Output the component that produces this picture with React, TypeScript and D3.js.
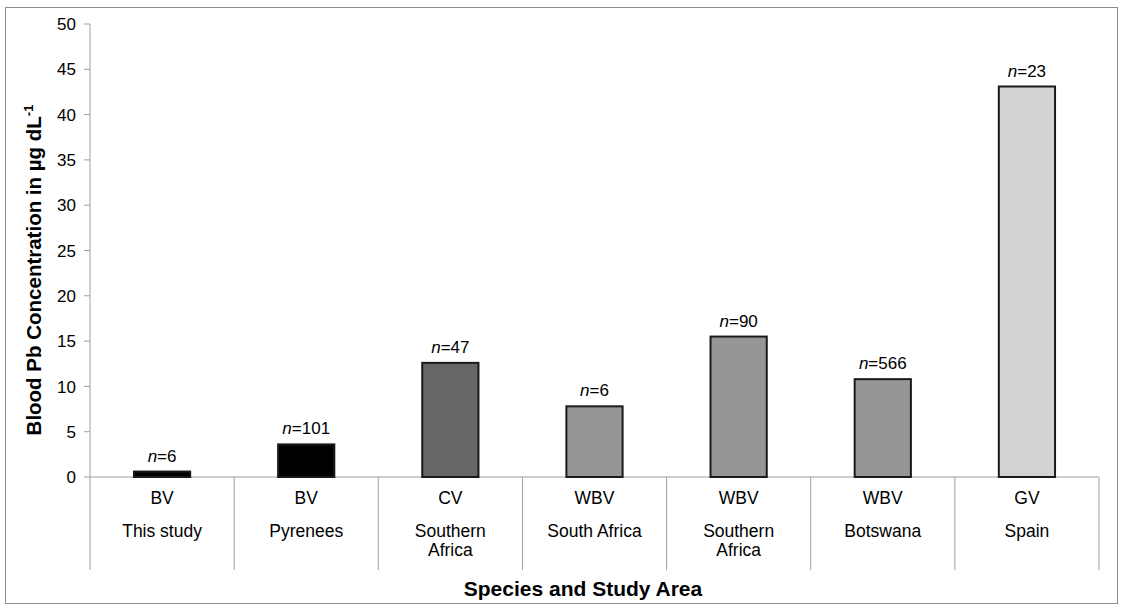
import * as d3 from "d3";

const species = ["BV", "BV", "CV", "WBV", "WBV", "WBV", "GV"];
const areas = [
  ["This study"],
  ["Pyrenees"],
  ["Southern", "Africa"],
  ["South Africa"],
  ["Southern", "Africa"],
  ["Botswana"],
  ["Spain"],
];
const values = [0.6, 3.6, 12.6, 7.8, 15.5, 10.8, 43.1];
const sampleSizes = [6, 101, 47, 6, 90, 566, 23];
const fills = ["#000000", "#000000", "#666666", "#969696", "#969696", "#969696", "#d3d3d3"];
const yTicks = [0, 5, 10, 15, 20, 25, 30, 35, 40, 45, 50];

const W = 1125;
const H = 608;
const margin = { top: 24, left: 90, right: 26, bottom: 131 };
const FONT = "'Liberation Sans', Arial, sans-serif";
const AXIS = "#a0a0a0";

export default function App() {
  const x = d3
    .scaleBand<number>()
    .domain(values.map((_, i) => i))
    .range([margin.left, W - margin.right])
    .padding(0);
  const y = d3
    .scaleLinear()
    .domain([0, 50])
    .range([H - margin.bottom, margin.top]);
  const bw = x.bandwidth();
  const barW = bw * 0.39;
  const y0 = y(0);
  const tableBottom = 570;

  return (
    <svg
      width={W}
      height={H}
      style={{ position: "absolute", left: 0, top: 0, background: "#fff" }}
      fontFamily={FONT}
    >
      {/* outer frame */}
      <rect x={5.5} y={7.5} width={1112} height={596} fill="#fff" stroke="#8c8c8c" strokeWidth={1} />

      {/* y axis */}
      <line x1={margin.left} x2={margin.left} y1={y(50)} y2={tableBottom} stroke={AXIS} />
      {yTicks.map((t) => (
        <g key={t}>
          <line x1={margin.left - 6} x2={margin.left} y1={y(t)} y2={y(t)} stroke={AXIS} />
          <text x={76} y={y(t)} dy="0.36em" textAnchor="end" fontSize={17} fill="#000">
            {t}
          </text>
        </g>
      ))}

      {/* x axis and category table */}
      <line x1={margin.left} x2={W - margin.right} y1={y0} y2={y0} stroke={AXIS} />
      {values.map((_, i) => (
        <line
          key={"sep" + i}
          x1={(x(i) as number) + bw}
          x2={(x(i) as number) + bw}
          y1={y0}
          y2={tableBottom}
          stroke={AXIS}
        />
      ))}

      {/* bars */}
      {values.map((v, i) => {
        const cx = (x(i) as number) + bw / 2;
        return (
          <g key={"bar" + i}>
            <rect
              x={cx - barW / 2}
              y={y(v)}
              width={barW}
              height={y0 - y(v)}
              fill={fills[i]}
              stroke="#1a1a1a"
              strokeWidth={2}
            />
            <text x={cx} y={y(v) - 10} textAnchor="middle" fontSize={17} fill="#000">
              <tspan fontStyle="italic">n</tspan>={sampleSizes[i]}
            </text>
            <text x={cx} y={504} textAnchor="middle" fontSize={17.5} fill="#000">
              {species[i]}
            </text>
            {areas[i].map((line, j) => (
              <text key={j} x={cx} y={537 + j * 19} textAnchor="middle" fontSize={17.5} fill="#000">
                {line}
              </text>
            ))}
          </g>
        );
      })}

      {/* axis titles */}
      <text x={583} y={596} textAnchor="middle" fontSize={21} fontWeight="bold" fill="#000">
        Species and Study Area
      </text>
      <text
        transform={`translate(41,270) rotate(-90)`}
        textAnchor="middle"
        fontSize={20.5}
        fontWeight="bold"
        fill="#000"
      >
        Blood Pb Concentration in µg dL
        <tspan dy={-8} fontSize={13}>-1</tspan>
      </text>
    </svg>
  );
}
